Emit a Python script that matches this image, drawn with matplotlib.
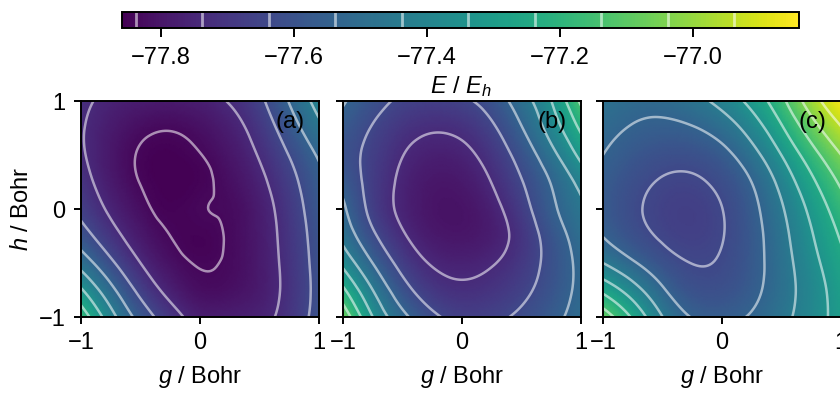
import numpy as np
import matplotlib
matplotlib.use("Agg")
import matplotlib.pyplot as plt
import matplotlib.tri as mtri

plt.rcParams["font.family"] = ["Liberation Sans", "DejaVu Sans"]
plt.rcParams["mathtext.fontset"] = "custom"
plt.rcParams["mathtext.rm"] = "Liberation Sans"
plt.rcParams["mathtext.it"] = "Liberation Sans:italic"
plt.rcParams["font.size"] = 17
plt.rcParams["axes.linewidth"] = 1.4
plt.rcParams["xtick.major.width"] = 1.4
plt.rcParams["ytick.major.width"] = 1.4

# grid of displacements (Bohr)
g_grid = [-1.0, -0.75, -0.5, -0.25, 0.0, 0.25, 0.5, 0.75, 1.0]
h_grid = [-1.0, -0.75, -0.5, -0.25, 0.0, 0.25, 0.5, 0.75, 1.0]

# energies in mEh above E_REF, rows = h from -1 to 1, columns = g from -1 to 1
E_REF = -77.858
e_a = [
    [689, 460, 282, 163, 86, 85, 98, 157, 260],
    [533, 349, 194, 92, 38, 42, 75, 148, 252],
    [382, 240, 121, 47, 17, 29, 72, 152, 256],
    [267, 157, 71, 21, 8, 27, 75, 158, 264],
    [195, 105, 39, 7, 18, 30, 81, 168, 280],
    [156, 75, 19, -1, 9, 41, 100, 189, 297],
    [132, 64, 15, 2, 19, 60, 128, 224, 333],
    [128, 75, 37, 25, 44, 87, 162, 274, 397],
    [140, 99, 78, 74, 87, 127, 201, 326, 459],
]
e_b = [
    [799, 521, 348, 241, 194, 201, 239, 293, 360],
    [641, 421, 260, 168, 138, 154, 198, 265, 346],
    [495, 320, 188, 114, 95, 115, 169, 253, 347],
    [391, 239, 132, 73, 60, 85, 157, 265, 368],
    [338, 192, 102, 56, 52, 94, 183, 299, 400],
    [292, 184, 104, 63, 69, 123, 216, 326, 453],
    [261, 191, 123, 89, 99, 159, 259, 389, 549],
    [287, 215, 157, 130, 144, 206, 316, 463, 639],
    [330, 258, 205, 190, 206, 263, 374, 520, 740],
]
e_c = [
    [780, 607, 422, 317, 300, 330, 393, 473, 560],
    [595, 466, 333, 257, 252, 297, 376, 471, 570],
    [421, 333, 258, 220, 229, 285, 378, 488, 596],
    [319, 255, 212, 196, 218, 284, 389, 512, 631],
    [290, 235, 200, 191, 220, 294, 410, 545, 676],
    [297, 247, 215, 210, 243, 322, 452, 599, 738],
    [321, 278, 251, 252, 292, 384, 522, 678, 820],
    [348, 315, 301, 315, 366, 465, 609, 776, 915],
    [380, 352, 351, 387, 453, 553, 695, 873, 1000],
]
panel_labels = ["(a)", "(b)", "(c)"]

vmin, vmax = -77.858, -76.840
levels = [-77.837, -77.737, -77.637, -77.537, -77.437, -77.337, -77.237, -77.137, -77.037, -76.937]
cbar_ticks = [-77.8, -77.6, -77.4, -77.2, -77.0]

G, H = np.meshgrid(g_grid, h_grid)
tri = mtri.Triangulation(G.ravel(), H.ravel())
refiner = mtri.UniformTriRefiner(tri)

fig = plt.figure(figsize=(8.4, 3.93), dpi=100)
lefts = [81 / 840, 343 / 840, 603 / 840]
for i, (left, e) in enumerate(zip(lefts, [e_a, e_b, e_c])):
    ax = fig.add_axes([left, 76 / 393, 238 / 840, 216 / 393])
    E = E_REF + np.array(e, dtype=float).ravel() / 1000.0
    tri_f, z_f = refiner.refine_field(E, subdiv=4)
    ax.tripcolor(tri_f, z_f, shading="gouraud", cmap="viridis", vmin=vmin, vmax=vmax)
    ax.tricontour(tri_f, z_f, levels=levels, colors="white", alpha=0.55,
                  linewidths=1.8, linestyles="solid")
    ax.set_xlim(-1, 1)
    ax.set_ylim(-1, 1)
    ax.set_xticks([-1, 0, 1])
    ax.set_yticks([-1, 0, 1])
    ax.tick_params(length=5, pad=6)
    ax.set_xlabel("$g$ / Bohr", labelpad=7)
    if i == 0:
        ax.set_ylabel("$h$ / Bohr")
    else:
        ax.set_yticklabels([])
    ax.text(0.94, 0.955, panel_labels[i], transform=ax.transAxes, ha="right", va="top")

cax = fig.add_axes([122 / 840, 365 / 393, 677 / 840, 16 / 393])
sm = plt.cm.ScalarMappable(norm=plt.Normalize(vmin, vmax), cmap="viridis")
cb = fig.colorbar(sm, cax=cax, orientation="horizontal")
cb.add_lines(levels, [(1, 1, 1, 0.55)] * len(levels), [2] * len(levels))
cb.set_ticks(cbar_ticks)
cb.outline.set_linewidth(1.4)
cb.ax.tick_params(length=6.5, width=1.4, pad=7)
cb.set_label("$E$ / $E_h$", labelpad=4)

fig.savefig("out.png", dpi=100)
